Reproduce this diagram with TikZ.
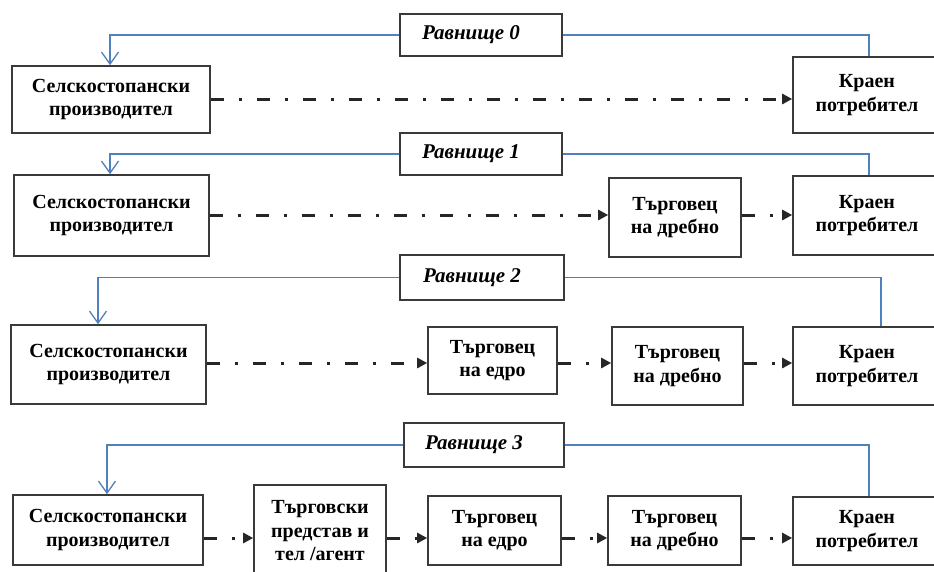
\documentclass[tikz,border=0pt]{standalone}
\usepackage{fontspec}
\setmainfont{Liberation Serif}
\usetikzlibrary{arrows.meta}
\definecolor{lnblue}{HTML}{4F81BD}
\definecolor{bord}{HTML}{3A3A3A}
\tikzset{
  box/.style={draw=bord, line width=1.6pt, fill=white, align=center,
    font=\bfseries\fontsize{20}{23.5}\selectfont, inner sep=0pt},
  lvl/.style={box, minimum height=42pt, font=\bfseries\itshape\fontsize{21}{24}\selectfont},
  feed/.style={draw=lnblue, line width=1.3pt,
    -{Straight Barb[length=12pt,width=17pt,line width=1.3pt]}},
  link/.style={draw=lnblue, line width=1.3pt},
  flow/.style={line width=3pt, draw=black!85,
    dash pattern=on 13pt off 15pt on 3pt off 15pt,
    -{Triangle[length=10pt,width=10pt]}},
}
\newcommand{\lvltext}[1]{#1\hspace*{20pt}}
\begin{document}
\begin{tikzpicture}[x=1pt,y=-1pt]
\clip (0,0) rectangle (934,571);
\fill[white] (0,0) rectangle (934,571);

% ---------- Row 0 ----------
\node[lvl, minimum width=162pt] (lev0) at (481,35) {\lvltext{Равнище 0}};
\node[box, minimum width=198pt, minimum height=67pt] (prod0) at (111,99.5) {Селскостопански\\производител};
\node[box, minimum width=148pt, minimum height=76pt] (cons0) at (867,95) {Краен\\потребител};
\coordinate (r0) at (0,99);
\draw[feed] (lev0.west) -| ([xshift=-1pt]prod0.north);
\draw[link] (lev0.east) -| ([xshift=2pt]cons0.north);
\draw[flow] (prod0.east |- r0) -- (cons0.west |- r0);

% ---------- Row 1 ----------
\node[lvl, minimum width=162pt] (lev1) at (481,154) {\lvltext{Равнище 1}};
\node[box, minimum width=195pt, minimum height=81pt] (prod1) at (111.5,215.5) {Селскостопански\\производител};
\node[box, minimum width=132pt, minimum height=79pt] (ret1) at (675,217.5) {Търговец\\на дребно};
\node[box, minimum width=148pt, minimum height=79pt] (cons1) at (867,215.5) {Краен\\потребител};
\coordinate (r1) at (0,215);
\draw[feed] (lev1.west) -| ([xshift=-1.5pt]prod1.north);
\draw[link] (lev1.east) -| ([xshift=2pt]cons1.north);
\draw[flow] (prod1.east |- r1) -- (ret1.west |- r1);
\draw[flow] (ret1.east |- r1) -- (cons1.west |- r1);

% ---------- Row 2 ----------
\node[lvl, minimum width=164pt, minimum height=45pt] (lev2) at (482,277.5) {\lvltext{Равнище 2}};
\node[box, minimum width=195pt, minimum height=79pt] (prod2) at (108.5,364.5) {Селскостопански\\производител};
\node[box, minimum width=129pt, minimum height=67pt] (wh2) at (492.5,360.5) {Търговец\\на едро};
\node[box, minimum width=131pt, minimum height=78pt] (ret2) at (677.5,366) {Търговец\\на дребно};
\node[box, minimum width=148pt, minimum height=78pt] (cons2) at (867,366) {Краен\\потребител};
\coordinate (r2) at (0,363);
\draw[feed] (lev2.west) -| ([xshift=-10.5pt]prod2.north);
\draw[link] (lev2.east) -| ([xshift=14pt]cons2.north);
\draw[flow] (prod2.east |- r2) -- (wh2.west |- r2);
\draw[flow] (wh2.east |- r2) -- (ret2.west |- r2);
\draw[flow] (ret2.east |- r2) -- (cons2.west |- r2);

% ---------- Row 3 ----------
\node[lvl, minimum width=160pt, minimum height=44pt] (lev3) at (484,445) {\lvltext{Равнище 3}};
\node[box, minimum width=190pt, minimum height=70pt] (prod3) at (108,530) {Селскостопански\\производител};
\node[box, minimum width=132pt, minimum height=92pt] (agent) at (320,531) {Търговски\\представ и\\тел /агент};
\node[box, minimum width=133pt, minimum height=69pt] (wh3) at (494.5,530.5) {Търговец\\на едро};
\node[box, minimum width=133pt, minimum height=69pt] (ret3) at (674.5,530.5) {Търговец\\на дребно};
\node[box, minimum width=148pt, minimum height=68pt] (cons3) at (867,531) {Краен\\потребител};
\coordinate (r3) at (0,538);
\draw[feed] (lev3.west) -| ([xshift=-1pt]prod3.north);
\draw[link] (lev3.east) -| ([xshift=2pt]cons3.north);
\draw[flow] (prod3.east |- r3) -- (agent.west |- r3);
\draw[flow] (agent.east |- r3) -- (wh3.west |- r3);
\draw[flow] (wh3.east |- r3) -- (ret3.west |- r3);
\draw[flow] (ret3.east |- r3) -- (cons3.west |- r3);
\end{tikzpicture}
\end{document}
